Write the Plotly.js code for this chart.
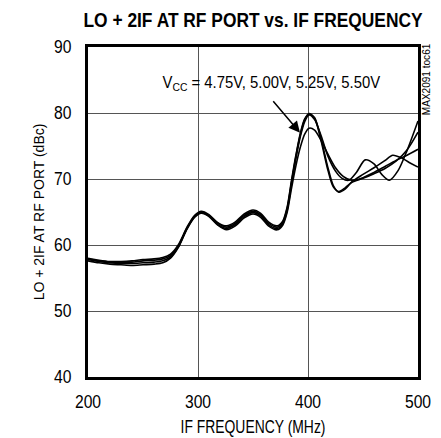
<!DOCTYPE html>
<html>
<head>
<meta charset="utf-8">
<script src="https://cdn.plot.ly/plotly-3.0.1.min.js"></script>
<style>html,body{margin:0;padding:0;background:#fff;}#chart{width:441px;height:438px;}</style>
</head>
<body>
<div id="chart"></div>
<script>
// Data
const vccLabels = ["4.75V", "5.00V", "5.25V", "5.50V"];

const xLeft = [200,210,220,230,240,250,260,268,275,282,290,297,303,310,318,326,334,342,350,357,364,372,377,381,385,389,393,397,401];

const xA = xLeft.concat([406,412,418,425,432,440,450,460,470,480,490,500]);
const yA = [57.6,57.3,57.1,57.0,56.9,57.0,57.1,57.3,58.0,59.6,62.4,64.2,64.8,64.3,63.0,62.3,62.9,64.1,64.7,64.2,62.9,62.3,63.0,64.9,68.6,72.0,74.8,76.8,77.7,
            77.4,75.8,73.8,71.7,70.4,69.8,70.2,71.0,71.9,72.8,73.6,74.5];

const xB = xLeft.concat([406,412,418,425,431,437,444,452,460,467,474,482,490,500]);
const yB = [57.8,57.5,57.3,57.2,57.2,57.3,57.4,57.6,58.2,59.7,62.5,64.3,64.9,64.4,63.1,62.5,63.1,64.3,64.9,64.4,63.1,62.5,63.2,65.2,69.2,73.1,76.4,78.7,79.7,
            79.0,76.5,73.5,71.2,70.1,69.8,71.0,72.9,72.3,70.7,69.8,71.3,74.3,78.8];

const xC = xLeft.concat([406,412,418,423,428,434,440,450,460,470,477,485,492,500]);
const yC = [57.9,57.6,57.4,57.3,57.4,57.6,57.7,57.9,58.4,59.8,62.6,64.4,65.0,64.5,63.3,62.7,63.3,64.5,65.1,64.6,63.3,62.7,63.4,65.5,69.5,73.4,76.7,79.0,79.9,
            79.3,76.0,71.8,69.0,68.0,68.5,69.6,70.7,71.7,72.8,73.6,73.2,72.5,71.8];

const xD = xLeft.concat([406,412,418,423,428,434,440,450,460,470,480,490,500]);
const yD = [58.0,57.7,57.5,57.5,57.6,57.8,57.9,58.1,58.6,60.0,62.7,64.5,65.1,64.6,63.4,62.9,63.5,64.7,65.3,64.8,63.5,62.9,63.6,65.7,69.8,73.6,76.9,79.1,79.8,
            79.2,75.7,71.4,68.8,68.1,68.7,69.5,70.1,70.8,71.6,72.7,74.4,77.1];

const xTicks = [200,300,400,500];
const xTickText = ["200","300","400","500"];
const yTicks = [40,50,60,70,80,90];
const yTickText = ["40","50","60","70","80","90"];

const FONT = "'Liberation Sans', Arial, sans-serif";

const series = [[xA,yA],[xB,yB],[xC,yC],[xD,yD]];
const traces = series.map((s, i) => ({
  x: s[0], y: s[1], name: "VCC = " + vccLabels[i],
  type: "scatter", mode: "lines",
  line: {color: "#000", width: 1.6, shape: "spline", smoothing: 0.8},
  hoverinfo: "skip", showlegend: false
}));

const layout = {
  width: 441, height: 438,
  margin: {l: 88, r: 23, t: 47, b: 61},
  paper_bgcolor: "#fff", plot_bgcolor: "#fff",
  font: {family: FONT, size: 16, color: "#000"},
  title: {
    text: "<b>LO + 2IF AT RF PORT vs. IF FREQUENCY</b>",
    font: {family: FONT, size: 20, color: "#000"},
    x: 253 / 441, xanchor: "center", y: 1 - 20 / 438, yanchor: "middle"
  },
  xaxis: {
    range: [200, 500], tickvals: xTicks, ticktext: xTickText,
    showgrid: true, gridcolor: "#555", gridwidth: 1,
    showline: true, linecolor: "#000", linewidth: 3, mirror: true,
    ticks: "", ticklabelstandoff: 6, zeroline: false,
    tickfont: {family: FONT, size: 18, color: "#000"},
    title: {text: "IF FREQUENCY (MHz)", font: {family: FONT, size: 18, color: "#000"}, standoff: 10}
  },
  yaxis: {
    range: [40, 90], tickvals: yTicks, ticktext: yTickText,
    showgrid: true, gridcolor: "#555", gridwidth: 1,
    showline: true, linecolor: "#000", linewidth: 3, mirror: true,
    ticks: "", ticklabelstandoff: 10, zeroline: false,
    tickfont: {family: FONT, size: 18, color: "#000"},
    title: {text: "LO + 2IF AT RF PORT (dBc)", font: {family: FONT, size: 15, color: "#000"}, standoff: 4}
  },
  annotations: [
    {
      x: 366.4, y: 84.5, xref: "x", yref: "y",
      text: "V<sub>CC</sub> = 4.75V, 5.00V, 5.25V, 5.50V",
      showarrow: false, font: {family: FONT, size: 16, color: "#000"},
      xanchor: "center", yanchor: "middle"
    },
    {
      x: 392.7, y: 77.0, xref: "x", yref: "y",
      ax: -28, ay: -33, text: "", showarrow: true,
      arrowhead: 2, arrowsize: 1.5, arrowwidth: 1.5, arrowcolor: "#000"
    },
    {
      x: (427 - 88) / 330, y: 1 - (79 - 47) / 330, xref: "paper", yref: "paper",
      xanchor: "center", yanchor: "middle",
      text: "MAX2091 toc61", showarrow: false, textangle: -90,
      font: {family: FONT, size: 10, color: "#000"}
    }
  ]
};

// Condense text horizontally (in its own frame) to mimic the reference's narrow typeface; text stays real text
function squeezeEl(el, factor, target, anchor) {
  const bb = el.getBBox();
  if (!bb.width) return;
  const f = target ? target / bb.width : factor;
  const cx = anchor === "right" ? bb.x + bb.width : bb.x + bb.width / 2;
  const cy = bb.y + bb.height / 2;
  const prev = el.getAttribute("transform") || "";
  el.setAttribute("transform", prev + " translate(" + cx + "," + cy + ") scale(" + f + ",1) translate(" + (-cx) + "," + (-cy) + ")");
}
function squeeze(selector, factor, target, anchor) {
  document.querySelectorAll(selector).forEach(el => squeezeEl(el, factor, target, anchor));
}

Plotly.newPlot("chart", traces, layout, {staticPlot: true, displayModeBar: false}).then(() => {
  squeeze(".gtitle", 0, 340);
  squeeze(".g-xtitle text", 0, 145);
  squeeze(".g-ytitle text", 0, 177);
  squeeze(".xtick text", 0.87);
  squeeze(".ytick text", 0.87, 0, "right");
  document.querySelectorAll(".annotation-text").forEach(el => {
    const t = el.textContent || "";
    if (t.indexOf("4.75V") >= 0) squeezeEl(el, 0, 218);
    else if (t.indexOf("MAX2091") >= 0) squeezeEl(el, 0, 72);
  });
});
</script>
</body>
</html>
